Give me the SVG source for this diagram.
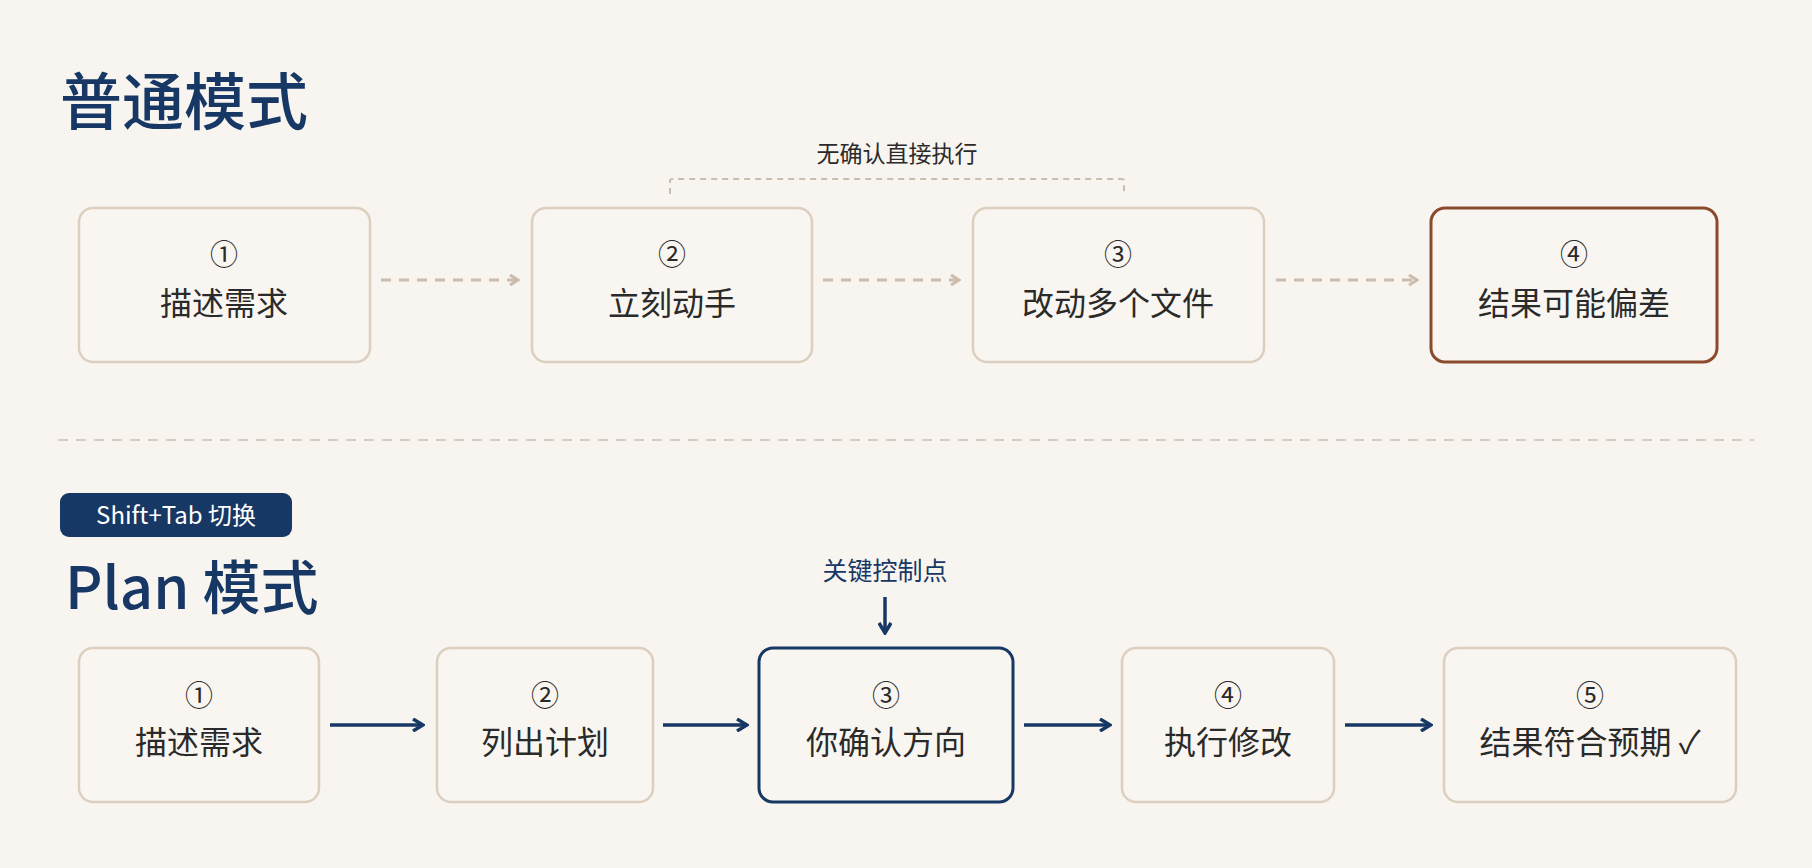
<svg xmlns="http://www.w3.org/2000/svg" width="1812" height="868" viewBox="0 0 1812 868">
<style>
text{font-family:"Noto Sans CJK SC","Liberation Sans",sans-serif;text-anchor:middle;fill:#2a2a2a}
.box{fill:#f9f6f1;stroke:#ddcfc0;stroke-width:2.5}
.num{font-size:28px}
.lbl{font-size:32px}
.title{font-size:62px;fill:#173864;text-anchor:start;font-weight:500}
.dash{stroke:#cbbcad;stroke-width:3;stroke-dasharray:10 8;fill:none}
.solid{stroke:#173864;stroke-width:3.5;fill:none}
</style>
<defs>
<marker id="ad" markerWidth="12" markerHeight="12" refX="10" refY="6" orient="auto" markerUnits="userSpaceOnUse"><path d="M2,1 L10,6 L2,11" fill="none" stroke="#cbbcad" stroke-width="3"/></marker>
<marker id="as" markerWidth="14" markerHeight="14" refX="12" refY="7" orient="auto" markerUnits="userSpaceOnUse"><path d="M2,1 L12,7 L2,13" fill="none" stroke="#173864" stroke-width="3.5"/></marker>
</defs>
<rect width="1812" height="868" fill="#f8f5f0"/>
<text class="title" x="60" y="125">普通模式</text>
<text x="897" y="162" font-size="23">无确认直接执行</text>
<path d="M670,194 V181 Q670,179 672,179 H1122 Q1124,179 1124,181 V194" class="dash" style="stroke-width:2;stroke-dasharray:6 5"/>
<g id="n1"><rect class="box" x="79" y="208" width="291" height="154" rx="14"/><text class="num" x="224" y="265">①</text><text class="lbl" x="224" y="315">描述需求</text></g>
<g id="n2"><rect class="box" x="532" y="208" width="280" height="154" rx="14"/><text class="num" x="672" y="265">②</text><text class="lbl" x="672" y="315">立刻动手</text></g>
<g id="n3"><rect class="box" x="973" y="208" width="291" height="154" rx="14"/><text class="num" x="1118" y="265">③</text><text class="lbl" x="1118" y="315">改动多个文件</text></g>
<g id="n4"><rect class="box" x="1431" y="208" width="286" height="154" rx="14" style="stroke:#8b4a2c;stroke-width:3"/><text class="num" x="1574" y="265">④</text><text class="lbl" x="1574" y="315">结果可能偏差</text></g>
<g id="connectors">
<line class="dash" x1="381" y1="280" x2="518" y2="280" marker-end="url(#ad)"/>
<line class="dash" x1="823" y1="280" x2="959" y2="280" marker-end="url(#ad)"/>
<line class="dash" x1="1276" y1="280" x2="1417" y2="280" marker-end="url(#ad)"/>
<line class="solid" x1="330" y1="725" x2="423" y2="725" marker-end="url(#as)"/>
<line class="solid" x1="663" y1="725" x2="747" y2="725" marker-end="url(#as)"/>
<line class="solid" x1="1024" y1="725" x2="1110" y2="725" marker-end="url(#as)"/>
<line class="solid" x1="1345" y1="725" x2="1431" y2="725" marker-end="url(#as)"/>
<line class="solid" x1="885" y1="597" x2="885" y2="633" marker-end="url(#as)"/>
</g>
<line x1="58" y1="440" x2="1754" y2="440" stroke="#d8ccbf" stroke-width="2" stroke-dasharray="10 8"/>
<rect x="60" y="493" width="232" height="44" rx="9" fill="#173864"/>
<text x="176" y="524" font-size="24" style="fill:#fff">Shift+Tab 切换</text>
<text class="title" x="65" y="609" style="font-size:58px">Plan 模式</text>
<text x="885" y="580" font-size="25" style="fill:#173864">关键控制点</text>
<g id="p1"><rect class="box" x="79" y="648" width="240" height="154" rx="14"/><text class="num" x="199" y="706">①</text><text class="lbl" x="199" y="754">描述需求</text></g>
<g id="p2"><rect class="box" x="437" y="648" width="216" height="154" rx="14"/><text class="num" x="545" y="706">②</text><text class="lbl" x="545" y="754">列出计划</text></g>
<g id="p3"><rect class="box" x="759" y="648" width="254" height="154" rx="14" style="stroke:#173864;stroke-width:3"/><text class="num" x="886" y="706">③</text><text class="lbl" x="886" y="754">你确认方向</text></g>
<g id="p4"><rect class="box" x="1122" y="648" width="212" height="154" rx="14"/><text class="num" x="1228" y="706">④</text><text class="lbl" x="1228" y="754">执行修改</text></g>
<g id="p5"><rect class="box" x="1444" y="648" width="292" height="154" rx="14"/><text class="num" x="1590" y="706">⑤</text><text class="lbl" x="1590" y="754">结果符合预期 ✓</text></g>
</svg>
